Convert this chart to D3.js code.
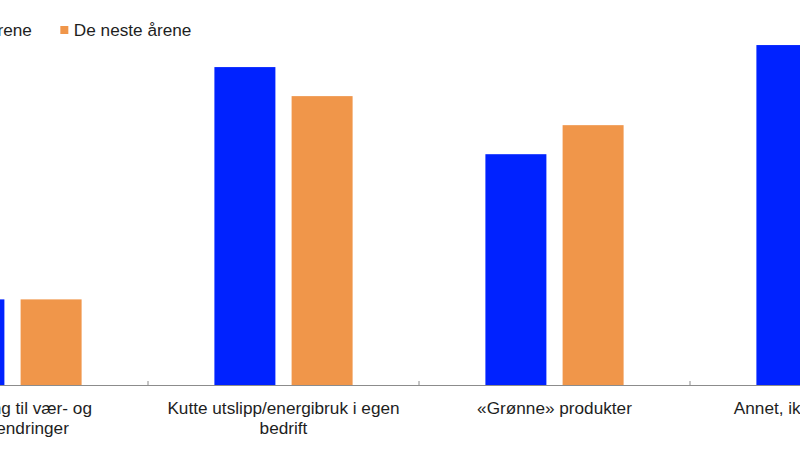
<!DOCTYPE html>
<html>
<head>
<meta charset="utf-8">
<script src="https://cdn.jsdelivr.net/npm/d3@7"></script>
<style>
  html, body { margin: 0; padding: 0; background: #fff; }
  svg { display: block; }
  text { font-family: "Liberation Sans", Arial, sans-serif; fill: #1e1e1e; }
</style>
</head>
<body>
<div id="chart"></div>
<script>
// categories and series
const categories = [
  'Tilpasning til vær- og klimaendringer',
  'Kutte utslipp/energibruk i egen bedrift',
  '«Grønne» produkter',
  'Annet, ikke klimarelatert'
];
const seriesNames = ['De siste årene', 'De neste årene'];
const siste = [8.6, 31.8, 23.1, 34.0];
const neste = [8.6, 28.9, 26.0, 31.0];
const colors = ['#0022ff', '#f0964a'];

const totalWidth = 800;
const totalHeight = 450;
const baseline = 385.5;

const svg = d3.select('#chart')
  .append('svg')
  .attr('width', totalWidth)
  .attr('height', totalHeight);

// the chart is cut at both sides, so the band range goes past the frame
const x0 = d3.scaleBand()
  .domain(categories)
  .range([-123, 961])
  .paddingInner(0)
  .paddingOuter(0);

const x1 = d3.scaleBand()
  .domain(seriesNames)
  .range([0, x0.bandwidth()])
  .paddingInner(0.21)
  .paddingOuter(0.86);

const y = d3.scaleLinear()
  .domain([0, 38.5])
  .range([baseline, 0]);

const rows = categories.map((c, i) => ({
  cat: c,
  values: [
    { name: seriesNames[0], value: siste[i] },
    { name: seriesNames[1], value: neste[i] }
  ]
}));

const color = d3.scaleOrdinal().domain(seriesNames).range(colors);

// bars
const groups = svg.append('g')
  .selectAll('g')
  .data(rows)
  .enter()
  .append('g')
  .attr('transform', d => `translate(${x0(d.cat)},0)`);

groups.selectAll('rect')
  .data(d => d.values)
  .enter()
  .append('rect')
  .attr('x', d => x1(d.name))
  .attr('width', x1.bandwidth())
  .attr('y', d => y(d.value))
  .attr('height', d => baseline - y(d.value))
  .attr('fill', d => color(d.name));

// x axis: baseline + ticks between categories
const axis = svg.append('g');
axis.append('line')
  .attr('x1', 0)
  .attr('x2', totalWidth)
  .attr('y1', baseline)
  .attr('y2', baseline)
  .attr('stroke', '#8c8c8c')
  .attr('stroke-width', 1);

const boundaries = categories.slice(1).map(c => x0(c));
axis.selectAll('.tick')
  .data(boundaries)
  .enter()
  .append('line')
  .attr('x1', d => d)
  .attr('x2', d => d)
  .attr('y1', baseline - 4.5)
  .attr('y2', baseline)
  .attr('stroke', '#8c8c8c')
  .attr('stroke-width', 1);

// category labels, wrapped
const labels = axis.selectAll('.label')
  .data(categories)
  .enter()
  .append('text')
  .attr('class', 'label')
  .attr('x', d => x0(d) + x0.bandwidth() / 2)
  .attr('y', 414)
  .attr('text-anchor', 'middle')
  .style('font-size', '17.2px')
  .text(d => d);

function wrap(sel, width) {
  sel.each(function () {
    const text = d3.select(this);
    const words = text.text().split(/\s+/);
    const xPos = text.attr('x');
    const yPos = text.attr('y');
    text.text(null);
    let line = [];
    let lineNo = 0;
    let tspan = text.append('tspan').attr('x', xPos).attr('y', yPos);
    words.forEach(w => {
      line.push(w);
      tspan.text(line.join(' '));
      if (tspan.node().getComputedTextLength() > width && line.length > 1) {
        line.pop();
        tspan.text(line.join(' '));
        line = [w];
        lineNo++;
        tspan = text.append('tspan')
          .attr('x', xPos)
          .attr('y', +yPos + lineNo * 20.3)
          .text(w);
      }
    });
  });
}
labels.call(wrap, 245);

// legend
const legend = svg.append('g')
  .attr('transform', 'translate(-92.5, 0)');

let offset = 0;
seriesNames.forEach((name, i) => {
  const item = legend.append('g').attr('transform', `translate(${offset},0)`);
  item.append('rect')
    .attr('x', 0)
    .attr('y', 26)
    .attr('width', 8)
    .attr('height', 8)
    .attr('fill', colors[i]);
  const t = item.append('text')
    .attr('x', 13.5)
    .attr('y', 36.3)
    .style('font-size', '17.2px')
    .text(name);
  offset += 13.5 + t.node().getComputedTextLength() + 28.5;
});
</script>
</body>
</html>
